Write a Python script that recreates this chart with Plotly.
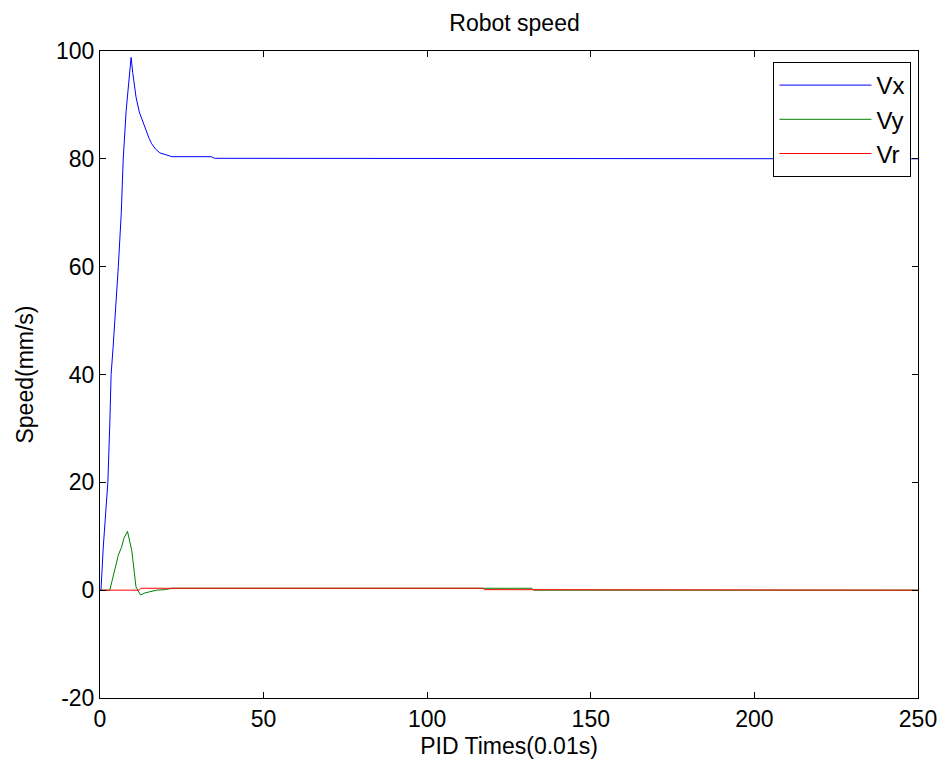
import plotly.graph_objects as go

# Vx samples (PID step, mm/s)
vx_t = [0, 0.3, 1, 2, 2.4, 3, 3.4, 4, 4.6, 5.6, 6.5, 7.1, 8, 9, 9.5, 10, 11, 12, 12.7,
        14, 15, 15.8, 17, 18.3, 19.5, 21, 22, 34, 35, 250]
vx = [0, 0, 8, 16, 20, 31, 40, 45, 50, 60, 70, 80, 89, 96, 98.8, 96, 91.5, 88.7, 87.5,
      85.2, 83.8, 82.8, 81.8, 81.1, 80.9, 80.6, 80.4, 80.4, 80.1, 80.0]

# Vy samples
vy_t = [0, 3, 4.6, 5.6, 6.6, 7.3, 8.4, 9.7, 11, 12.4, 13.8, 15.3, 17.3, 20, 21.9,
        117, 132, 132.5, 250]
vy = [0, 0, 4.0, 6.5, 8.0, 9.6, 10.9, 7.4, 0.6, -0.9, -0.5, -0.3, 0.0, 0.1, 0.35,
      0.35, 0.35, 0.0, 0.0]

# Vr samples
vr_t = [0, 12, 12.5, 117, 117.5, 132, 132.5, 250]
vr = [0, 0, 0.35, 0.35, 0.1, 0.1, 0.0, 0.0]

x_ticks = [0, 50, 100, 150, 200, 250]
y_ticks = [-20, 0, 20, 40, 60, 80, 100]
y_labels = ["-20", "0", "20", "40", "60", "80", "100"]

FONT = "Liberation Sans, Arial, sans-serif"

fig = go.Figure()
fig.add_trace(go.Scatter(x=vx_t, y=vx, mode="lines", name="Vx",
                         line=dict(color="#0000ff", width=1)))
fig.add_trace(go.Scatter(x=vy_t, y=vy, mode="lines", name="Vy",
                         line=dict(color="#008000", width=1)))
fig.add_trace(go.Scatter(x=vr_t, y=vr, mode="lines", name="Vr",
                         line=dict(color="#ff0000", width=1)))

# page body has an 8px margin, so margins are shifted by 8px
fig.update_layout(
    width=945, height=767,
    margin=dict(l=92, r=35, t=43, b=77),
    paper_bgcolor="white", plot_bgcolor="white",
    font=dict(family=FONT, size=24, color="black"),
    title=dict(text="Robot speed", x=0.536, xanchor="center",
               y=0.981, yanchor="middle", font=dict(size=23)),
    legend=dict(x=0.992, y=0.983, xanchor="right", yanchor="top",
                bordercolor="black", borderwidth=1, bgcolor="white",
                font=dict(size=24), itemwidth=92, tracegroupgap=0),
    showlegend=True,
)
fig.update_xaxes(range=[0, 250], tickvals=x_ticks, ticks="inside", ticklen=6,
                 tickcolor="black", showline=True, linecolor="black", linewidth=1,
                 mirror="ticks", showgrid=False, zeroline=False, automargin=False,
                 title=dict(text="PID Times(0.01s)", standoff=7, font=dict(size=23)),
                 tickfont=dict(size=23))
fig.update_yaxes(range=[-20, 100], tickvals=y_ticks, ticktext=y_labels,
                 ticks="inside", ticklen=6,
                 tickcolor="black", showline=True, linecolor="black", linewidth=1,
                 mirror="ticks", showgrid=False, zeroline=False, automargin=False,
                 title=dict(text="Speed(mm/s)", standoff=15, font=dict(size=23)),
                 tickfont=dict(size=23))

fig.write_html("out.html")
